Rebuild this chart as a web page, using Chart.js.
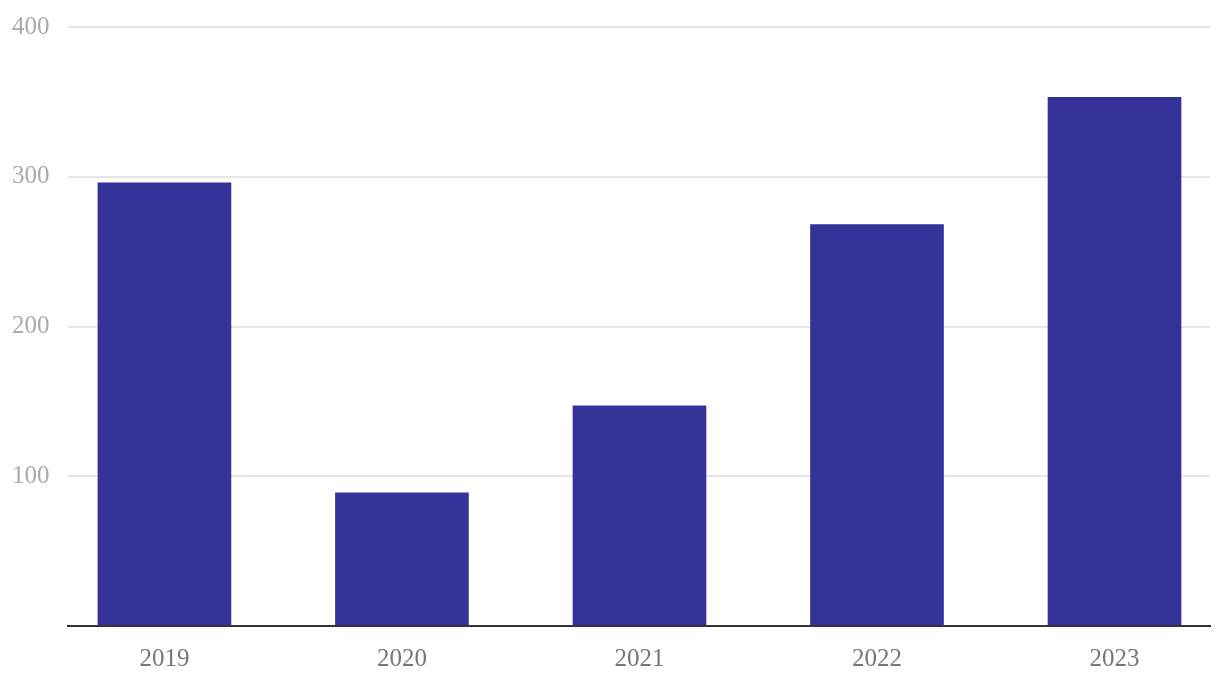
<!DOCTYPE html>
<html>
<head>
<meta charset="utf-8">
<script src="https://cdn.jsdelivr.net/npm/chart.js@4"></script>
<style>
  html, body { margin: 0; padding: 0; background: #fff; }
  #wrap { width: 1220px; height: 686px; }
</style>
</head>
<body>
<div id="wrap"><canvas id="chart"></canvas></div>
<script>
// Data
const years = ['2019', '2020', '2021', '2022', '2023'];
const values = [296, 89, 147, 268, 353];
const yTicks = [0, 100, 200, 300, 400];

const barColor = '#353399';
const fontFamily = '"Liberation Serif", "DejaVu Serif", serif';

const ctx = document.getElementById('chart').getContext('2d');
new Chart(ctx, {
    type: 'bar',
    data: {
        datasets: [{
            data: values.map((v, i) => ({ x: i, y: v })),
            backgroundColor: barColor,
            borderWidth: 0,
            barThickness: 133
        }]
    },
    options: {
        responsive: true,
        maintainAspectRatio: false,
        animation: false,
        layout: { padding: { left: 12, right: 10, top: 27, bottom: 0 } },
        plugins: { legend: { display: false }, tooltip: { enabled: false } },
        scales: {
            x: {
                type: 'linear',
                offset: false,
                min: -0.406,
                max: 4.402,
                afterFit: scale => { scale.height = 60; },
                grid: { display: false },
                border: { display: true, color: '#333333', width: 2 },
                ticks: {
                    stepSize: 1,
                    includeBounds: false,
                    padding: 10,
                    color: '#777777',
                    font: { family: fontFamily, size: 25 },
                    maxRotation: 0,
                    autoSkip: false,
                    callback: v => years[v] ?? ''
                }
            },
            y: {
                min: yTicks[0],
                max: yTicks[yTicks.length - 1],
                afterFit: scale => { scale.width = 56; },
                afterBuildTicks: scale => { scale.ticks = yTicks.map(v => ({ value: v })); },
                grid: { color: '#e6e6e6', lineWidth: 2, drawTicks: false },
                border: { display: false },
                ticks: {
                    crossAlign: 'far',
                    color: '#aaaaaa',
                    font: { family: fontFamily, size: 25 },
                    callback: v => v === 0 ? '' : v
                }
            }
        }
    }
});
</script>
</body>
</html>
